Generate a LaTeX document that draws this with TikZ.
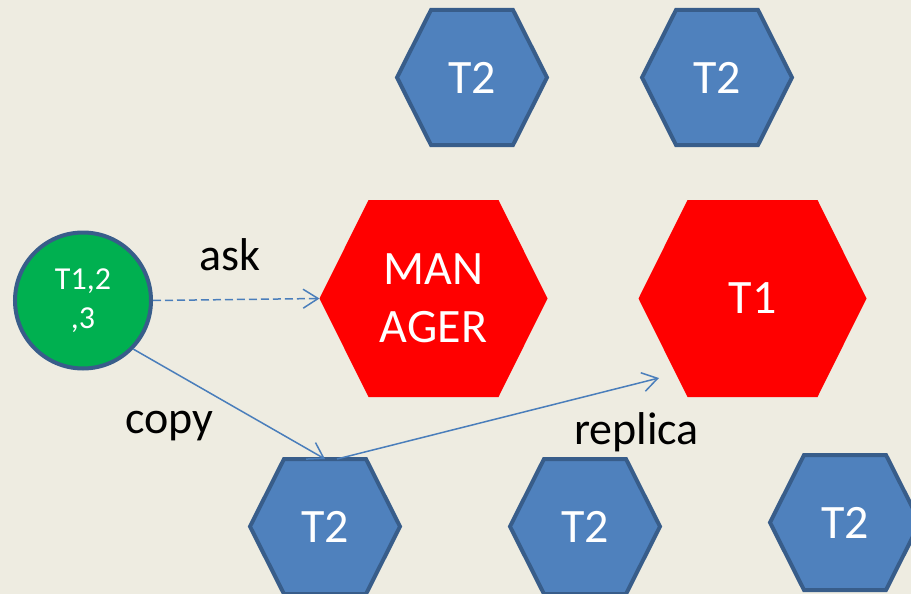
\documentclass[tikz,border=0pt]{standalone}
\usepackage{fontspec}
\setmainfont{Carlito}
\usetikzlibrary{arrows.meta,backgrounds}

\definecolor{bgtan}{HTML}{EEECE1}
\definecolor{hexblue}{HTML}{4F81BD}
\definecolor{hexedge}{HTML}{385D8A}
\definecolor{linkblue}{HTML}{4A7EBB}
\definecolor{hotred}{HTML}{FF0000}
\definecolor{okgreen}{HTML}{00B050}

% outline of a flat-topped hexagon fitted into the box of node #1,
% with the top and bottom sides inset by #2 from the box corners
\newcommand\hexoutline[2]{%
  (#1.west) -- ([xshift=#2]#1.north west) -- ([xshift=-#2]#1.north east)
  -- (#1.east) -- ([xshift=-#2]#1.south east) -- ([xshift=#2]#1.south west)
  -- cycle}

\tikzset{
  hexbox/.style={rectangle, inner sep=0pt, outer sep=0pt, text=white,
    align=center, font=\fontsize{48}{58}\selectfont},
  bluebox/.style={hexbox, minimum width=146pt, minimum height=131pt,
    outer sep=2pt},
  redbox/.style={hexbox, minimum width=228pt, minimum height=197pt},
  bluefill/.style={fill=hexblue, draw=hexedge, line width=4pt},
  redfill/.style={fill=hotred},
  taskball/.style={circle, inner sep=0pt, minimum size=136pt, fill=okgreen,
    draw=hexedge, line width=4pt, text=white, align=center,
    font=\fontsize{32}{39}\selectfont},
  link/.style={draw=linkblue, line width=1.5pt,
    -{Straight Barb[length=15pt,width=19pt]}},
  tag/.style={anchor=base, inner sep=0pt, font=\fontsize{46}{54}\selectfont}
}

\begin{document}
\begin{tikzpicture}[x=1pt, y=-1pt]
  \clip (0,0) rectangle (911,594);

  % replica servers holding T2
  \node[bluebox] (ta) at (472,77.5) {T2};
  \node[bluebox] (tb) at (717,77.5) {T2};
  \node[bluebox] (bc) at (325,526.5) {T2};
  \node[bluebox] (bd) at (585,526.5) {T2};
  \node[bluebox] (be) at (845,522.5) {T2};

  % manager and primary of T1
  \node[redbox] (mgr) at (433.5,298.5) {MAN\\AGER};
  \node[redbox] (t1) at (752.5,298.5) {T1};

  % client
  \node[taskball] (cl) at (83,300.5) {T1,2\\,3};

  % hexagon bodies behind their texts
  \begin{scope}[on background layer]
    \fill[bgtan] (0,0) rectangle (911,594);
    \foreach \h in {ta,tb,bc,bd,be}
      \draw[bluefill] \hexoutline{\h}{34pt};
    \foreach \h in {mgr,t1}
      \fill[redfill] \hexoutline{\h}{49pt};
  \end{scope}

  % connectors
  \coordinate (rtip) at (659,378);
  \draw[link, dash pattern=on 8pt off 4pt] (cl.east) -- (mgr.west);
  \draw[link] (cl.-44) -- (bc.north);
  \draw[link] ([xshift=12pt]bc.north) -- (rtip);

  % labels
  \node[tag] (lask) at (230,270.5) {ask};
  \node[tag] (lcopy) at (169.5,433) {copy};
  \node[tag] (lrep) at (636.5,444) {replica};
\end{tikzpicture}
\end{document}
